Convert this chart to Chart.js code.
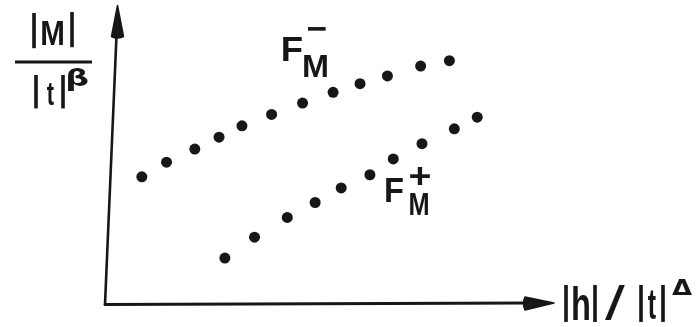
<!DOCTYPE html>
<html>
<head>
<meta charset="utf-8">
<script src="https://cdn.jsdelivr.net/npm/chart.js@4/dist/chart.umd.min.js"></script>
<style>
  html, body { margin: 0; padding: 0; background: #ffffff; }
  canvas { display: block; }
</style>
</head>
<body>
<canvas id="chart" width="696" height="327"></canvas>
<script>
// Magnetisation scaled by |t|^beta against reduced field |h|/|t|^Delta
// Lower-field branch F_M^- and upper branch F_M^+ (arbitrary units).
const fmMinusX = [0.82, 1.37, 2.00, 2.54, 3.05, 3.71, 4.40, 5.08, 5.68, 6.29, 7.03, 7.67];
const fmMinusY = [4.26, 4.75, 5.19, 5.59, 5.97, 6.35, 6.73, 7.09, 7.38, 7.64, 7.97, 8.15];
const fmPlusX  = [2.67, 3.33, 4.06, 4.68, 5.26, 5.90, 6.42, 7.06, 7.78, 8.29];
const fmPlusY  = [1.54, 2.24, 2.90, 3.40, 3.89, 4.33, 4.86, 5.37, 5.87, 6.26];
const seriesNames = ['F_M^-', 'F_M^+'];

const INK = '#171717';
const BOLD = 'bold 100px "Liberation Sans", "DejaVu Sans", sans-serif';
const REGULAR = '100px "Liberation Sans", "DejaVu Sans", sans-serif';
const GREEK = 'bold 100px "DejaVu Sans", sans-serif';

function toPoints(xs, ys) {
  return xs.map((x, i) => ({ x: x, y: ys[i] }));
}

// Draw a string stretched to fill a given pixel box (hand-lettered look).
function fitText(ctx, str, x0, y0, x1, y1, font) {
  ctx.save();
  ctx.font = font || BOLD;
  ctx.textAlign = 'left';
  ctx.textBaseline = 'alphabetic';
  const m = ctx.measureText(str);
  const w = m.actualBoundingBoxLeft + m.actualBoundingBoxRight;
  const h = m.actualBoundingBoxAscent + m.actualBoundingBoxDescent;
  ctx.translate(x0, y0);
  ctx.scale((x1 - x0) / w, (y1 - y0) / h);
  ctx.fillStyle = INK;
  ctx.fillText(str, m.actualBoundingBoxLeft, m.actualBoundingBoxAscent);
  ctx.restore();
}

const axesAndLabels = {
  id: 'axesAndLabels',
  beforeDatasetsDraw(chart) {
    const { ctx, chartArea } = chart;
    const L = chartArea.left, R = chartArea.right, T = chartArea.top, B = chartArea.bottom;
    ctx.save();
    ctx.strokeStyle = INK;
    ctx.fillStyle = INK;
    ctx.lineCap = 'round';
    ctx.lineJoin = 'round';

    // vertical axis (slightly leaning) with arrow head
    ctx.lineWidth = 2.6;
    ctx.beginPath();
    ctx.moveTo(L, B + 0.5);
    ctx.lineTo(L + 11.5, T + 30);
    ctx.stroke();
    ctx.lineWidth = 1.5;
    ctx.beginPath();
    ctx.moveTo(L + 12.5, T);
    ctx.lineTo(L + 18.5, T + 31);
    ctx.quadraticCurveTo(L + 12, T + 34, L + 6.5, T + 31);
    ctx.closePath();
    ctx.fill();
    ctx.stroke();

    // horizontal axis with arrow head
    ctx.lineWidth = 2.8;
    ctx.beginPath();
    ctx.moveTo(L, B + 0.5);
    ctx.lineTo(R - 26, B - 1);
    ctx.stroke();
    ctx.lineWidth = 1.5;
    ctx.beginPath();
    ctx.moveTo(R, B - 1);
    ctx.lineTo(R - 29, B - 7);
    ctx.quadraticCurveTo(R - 32, B - 1, R - 29, B + 6);
    ctx.closePath();
    ctx.fill();
    ctx.stroke();
    ctx.restore();
  },
  afterDatasetsDraw(chart) {
    const { ctx } = chart;

    // y-axis title: |M| over |t|^beta
    fitText(ctx, '|', 32, 13, 36, 48);
    fitText(ctx, 'M', 42, 20, 63, 45);
    fitText(ctx, '|', 70, 12, 74, 47);
    ctx.save();
    ctx.strokeStyle = INK;
    ctx.lineWidth = 3;
    ctx.beginPath();
    ctx.moveTo(15, 62);
    ctx.lineTo(92, 62);
    ctx.stroke();
    ctx.restore();
    fitText(ctx, '|', 34, 75, 38, 109);
    fitText(ctx, 't', 47, 83, 54, 105);
    fitText(ctx, '|', 61, 75, 65, 109);
    fitText(ctx, 'β', 68, 68, 88, 91, GREEK);

    // x-axis title: |h| / |t|^Delta
    fitText(ctx, '|', 564, 285, 568, 322);
    fitText(ctx, 'h', 573, 286, 589, 320);
    fitText(ctx, '|', 593, 285, 597, 322);
    fitText(ctx, '/', 605, 285, 625, 320, REGULAR);
    fitText(ctx, '|', 639, 285, 643, 322);
    fitText(ctx, 't', 648, 291, 656, 319);
    fitText(ctx, '|', 661, 285, 665, 322);
    fitText(ctx, 'Δ', 672, 279, 692, 295, GREEK);

    // branch labels F_M^- and F_M^+
    fitText(ctx, 'F', 283, 36, 302, 61);
    fitText(ctx, 'M', 304, 55, 327, 77);
    fitText(ctx, '−', 308, 27, 326, 31);

    fitText(ctx, 'F', 386, 178, 403, 202);
    fitText(ctx, 'M', 410, 193, 428, 215);
    fitText(ctx, '+', 410, 167, 430, 185);
  }
};

new Chart(document.getElementById('chart'), {
  type: 'scatter',
  data: {
    datasets: [
      {
        label: seriesNames[0],
        data: toPoints(fmMinusX, fmMinusY),
        backgroundColor: INK,
        borderWidth: 0,
        pointRadius: 5.5
      },
      {
        label: seriesNames[1],
        data: toPoints(fmPlusX, fmPlusY),
        backgroundColor: INK,
        borderWidth: 0,
        pointRadius: 5.5
      }
    ]
  },
  options: {
    responsive: false,
    animation: false,
    layout: { padding: { left: 105, right: 142, top: 3, bottom: 23 } },
    plugins: { legend: { display: false }, tooltip: { enabled: false } },
    scales: {
      x: { type: 'linear', min: 0, max: 10, display: false },
      y: { type: 'linear', min: 0, max: 10, display: false }
    }
  },
  plugins: [axesAndLabels]
});
</script>
</body>
</html>
